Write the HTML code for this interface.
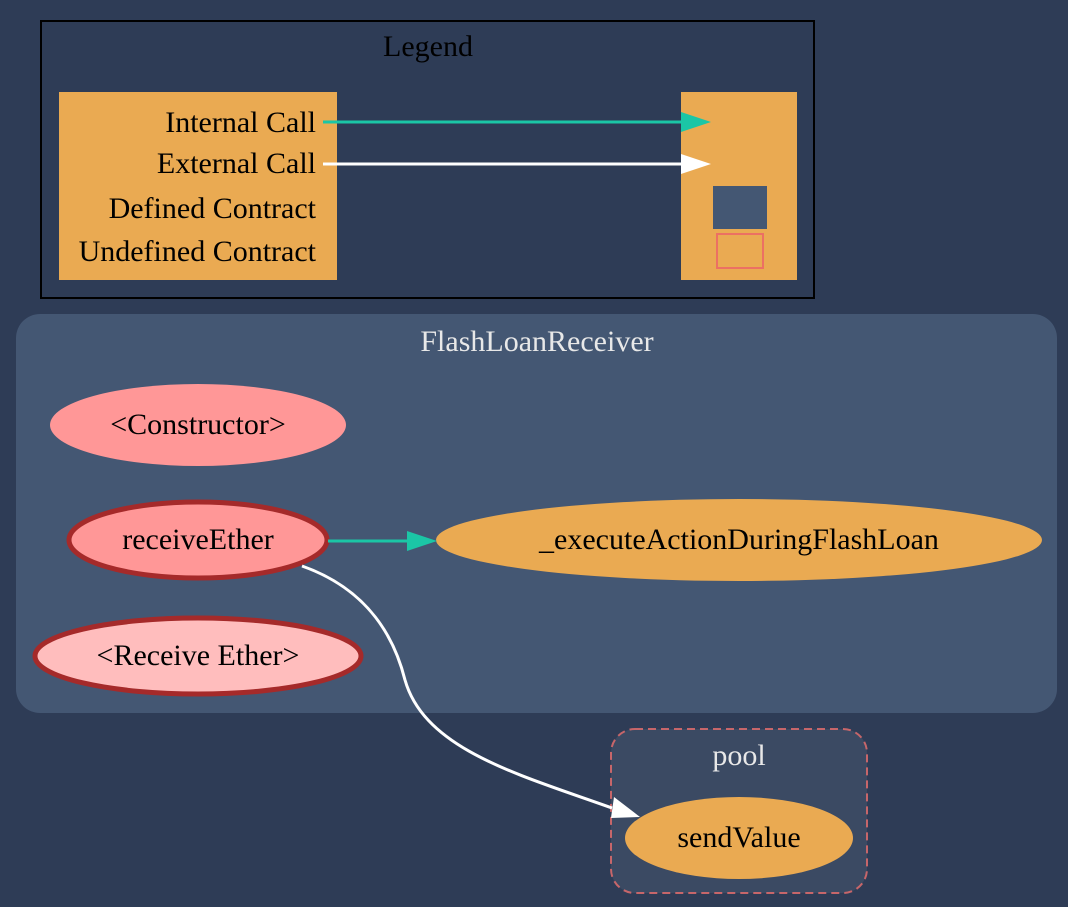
<!DOCTYPE html>
<html><head><meta charset="utf-8"><style>
html,body{margin:0;padding:0;background:#2e3c56;}
svg{display:block;}
text{font-family:"Liberation Serif",serif;}
</style></head><body>
<svg width="1068" height="907" viewBox="0 0 1068 907" xmlns="http://www.w3.org/2000/svg">
<rect width="1068" height="907" fill="#2e3c56"/>
<!-- Legend -->
<rect x="41" y="21" width="773" height="277" fill="none" stroke="#000" stroke-width="2"/>
<text x="428" y="56" font-size="30" text-anchor="middle" fill="#000">Legend</text>
<rect x="59" y="92" width="278" height="188" fill="#eaaa52"/>
<rect x="681" y="92" width="116" height="188" fill="#eaaa52"/>
<g font-size="30" fill="#000" text-anchor="end">
<text x="316" y="132">Internal Call</text>
<text x="316" y="173">External Call</text>
<text x="316" y="218">Defined Contract</text>
<text x="316" y="261">Undefined Contract</text>
</g>
<line x1="323" y1="122" x2="685" y2="122" stroke="#1bc6a6" stroke-width="3"/>
<polygon points="681,112 711,122 681,132" fill="#1bc6a6"/>
<line x1="323" y1="164" x2="685" y2="164" stroke="#fff" stroke-width="3"/>
<polygon points="681,154 711,164 681,174" fill="#fff"/>
<rect x="713" y="186" width="54" height="43" fill="#445773"/>
<rect x="717" y="234" width="46" height="34" fill="none" stroke="#ec7063" stroke-width="2"/>
<!-- FlashLoanReceiver cluster -->
<rect x="16" y="314" width="1041" height="399" rx="24" fill="#445773"/>
<text x="537" y="351" font-size="30" text-anchor="middle" fill="#e8e8e8">FlashLoanReceiver</text>
<ellipse cx="198" cy="425" rx="148" ry="41" fill="#ff9797"/>
<text x="198" y="434" font-size="30" text-anchor="middle" fill="#000">&lt;Constructor&gt;</text>
<ellipse cx="198" cy="540" rx="129" ry="38" fill="#ff9797" stroke="#a52a2a" stroke-width="5"/>
<text x="198" y="549" font-size="30" text-anchor="middle" fill="#000">receiveEther</text>
<ellipse cx="198" cy="656" rx="163" ry="38" fill="#ffbdbd" stroke="#a52a2a" stroke-width="5"/>
<text x="198" y="665" font-size="30" text-anchor="middle" fill="#000">&lt;Receive Ether&gt;</text>
<ellipse cx="739" cy="540" rx="303" ry="41" fill="#eaaa52"/>
<text x="739" y="549" font-size="30" text-anchor="middle" fill="#000">_executeActionDuringFlashLoan</text>
<line x1="328" y1="541" x2="410" y2="541" stroke="#1bc6a6" stroke-width="3"/>
<polygon points="407,531 437,541 407,551" fill="#1bc6a6"/>
<!-- pool -->
<rect x="611" y="729" width="256" height="164" rx="24" fill="#3b4a63" stroke="#e06c6c" stroke-width="2" stroke-dasharray="8,5" stroke-opacity="0.85"/>
<text x="739" y="765" font-size="30" text-anchor="middle" fill="#e8e8e8">pool</text>
<ellipse cx="739" cy="838" rx="114" ry="41" fill="#eaaa52"/>
<text x="739" y="847" font-size="30" text-anchor="middle" fill="#000">sendValue</text>
<path d="M302,566 C370,590 395,640 405,680 C425,750 520,775 612,808" fill="none" stroke="#fff" stroke-width="3"/>
<polygon points="614,797 640,817 611,818" fill="#fff"/>
</svg>
</body></html>
